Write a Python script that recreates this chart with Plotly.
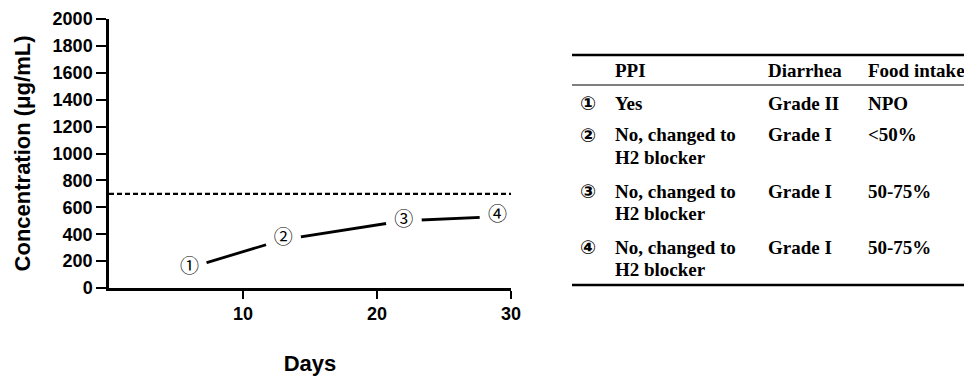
import plotly.graph_objects as go

# ---- data ----
days = [6, 13, 22, 29]
concentration = [150, 360, 500, 530]
point_labels = ["①", "②", "③", "④"]
threshold = 700
x_ticks = [10, 20, 30]
y_ticks = list(range(0, 2001, 200))

table_header = ["PPI", "Diarrhea", "Food intake"]
table_ids = ["①", "②", "③", "④"]
table_ppi = ["Yes", "No, changed to<br>H2 blocker", "No, changed to<br>H2 blocker", "No, changed to<br>H2 blocker"]
table_diarrhea = ["Grade II", "Grade I", "Grade I", "Grade I"]
table_food = ["NPO", "<50%", "50-75%", "50-75%"]

OFF = 8  # page body margin in the browser
W, H = 972 - OFF, 376 - OFF
L, R, T, B = 109 - OFF, 511 - OFF, 19 - OFF, 288 - OFF  # plot area in figure pixels

def px(x):
    return (x - OFF - L) / (R - L)

def py(y):
    return (B - (y - OFF)) / (B - T)

fig = go.Figure()
fig.add_trace(go.Scatter(x=[0, 30], y=[threshold, threshold], mode="lines",
                         line=dict(color="black", width=2.2, dash="5px,3px"),
                         hoverinfo="skip", showlegend=False))
fig.add_trace(go.Scatter(x=days, y=concentration, mode="lines",
                         line=dict(color="black", width=2.8), showlegend=False))
fig.add_trace(go.Scatter(x=days, y=concentration, mode="markers",
                         marker=dict(color="white", size=36, line=dict(width=0)),
                         cliponaxis=False, showlegend=False))
fig.add_trace(go.Scatter(x=days, y=concentration, mode="text", text=point_labels,
                         textposition="middle center",
                         textfont=dict(family="Noto Sans CJK JP", size=19, color="black"),
                         cliponaxis=False, showlegend=False))

axis_font = dict(family="Liberation Sans", size=18, color="black", weight="bold")
title_font = dict(family="Liberation Sans", size=22, color="black", weight="bold")

fig.update_layout(
    width=W, height=H, margin=dict(l=L, r=W - R, t=T, b=H - B, autoexpand=False),
    plot_bgcolor="white", paper_bgcolor="white",
    xaxis=dict(range=[0, 30], tickvals=x_ticks, automargin=False,
               ticks="outside", ticklen=8, tickwidth=2, tickcolor="black",
               showline=True, linecolor="black", linewidth=2.5, showgrid=False,
               zeroline=False, tickfont=axis_font,
               title=dict(text="Days", font=title_font, standoff=36)),
    yaxis=dict(range=[0, 2000], tickvals=y_ticks, automargin=False,
               ticks="outside", ticklen=10, tickwidth=2, tickcolor="black",
               showline=True, linecolor="black", linewidth=2.5, showgrid=False,
               zeroline=False, tickfont=axis_font,
               title=dict(text="Concentration (μg/mL)", font=title_font, standoff=16)),
)

# ---- table ----
serif = dict(family="Liberation Serif", size=19, color="black", weight="bold")
col_x = [614, 767, 867]
id_x = 588

def add_text(x, y, text, font, anchor="left"):
    fig.add_annotation(x=px(x), y=py(y), xref="paper", yref="paper", text=text,
                       showarrow=False, xanchor=anchor, yanchor="middle", font=font,
                       borderpad=0)

for cx, h in zip(col_x, table_header):
    add_text(cx, 71, h, serif)

row_y = [103, 135, 191, 247]
line_gap = 22
for i in range(len(table_ids)):
    y0 = row_y[i]
    add_text(id_x, y0, table_ids[i],
             dict(family="DejaVu Sans", size=19, color="black", weight="bold"), anchor="center")
    for cx, cell in zip(col_x, [table_ppi[i], table_diarrhea[i], table_food[i]]):
        for k, part in enumerate(cell.split("<br>")):
            add_text(cx, y0 + k * line_gap, part.replace("<", "&lt;"), serif)

for yy, wdt in [(55, 2.5), (85, 1.2), (285, 2.5)]:
    fig.add_shape(type="line", xref="paper", yref="paper", x0=px(572), x1=px(972),
                  y0=py(yy), y1=py(yy), line=dict(color="black", width=wdt))

fig.write_html("out.html")
